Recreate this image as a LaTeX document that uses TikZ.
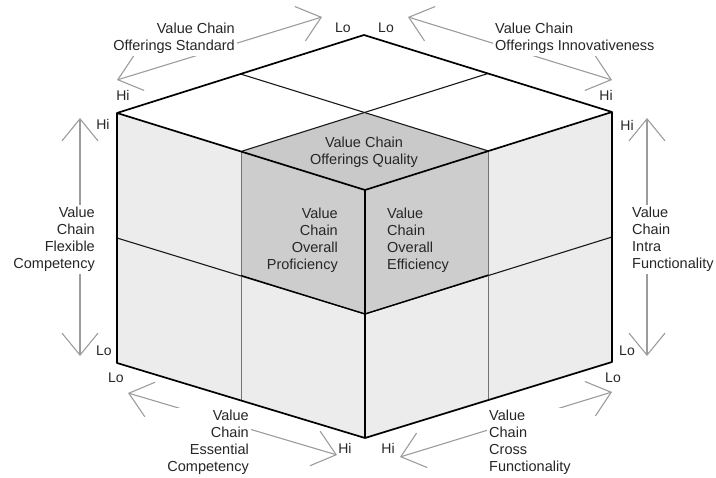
\documentclass[tikz,border=0pt]{standalone}
\usepackage{fontspec}
\setmainfont{Liberation Sans}
\usetikzlibrary{arrows.meta,calc}

\definecolor{facelight}{HTML}{ECECEC}
\definecolor{facedark}{HTML}{C9C9C9}
\definecolor{facemid}{HTML}{CDCDCD}
\definecolor{axisgray}{HTML}{9C9C9C}

\begin{document}
\begin{tikzpicture}[x=1pt,y=-1pt,
  txt/.style={font=\fontsize{14.5}{17}\selectfont, inner sep=2pt, text=black!85},
  boxtxt/.style={txt, fill=white},
  hilo/.style={font=\fontsize{14}{16}\selectfont, inner sep=0pt, text=black!85},
  axis/.style={draw=axisgray, line width=1.1pt,
    {Straight Barb[length=22pt,width=36pt]}-{Straight Barb[length=22pt,width=36pt]}},
  edge/.style={line width=1.7pt, line join=round},
  grid/.style={draw=black!90, line width=1.1pt},
  soft/.style={draw=black!55, line width=1pt}
]
\useasboundingbox (0,0) rectangle (716,478);

% cube corners
\coordinate (T)  at (364,35);
\coordinate (L)  at (117,113);
\coordinate (R)  at (612,112);
\coordinate (F)  at (365,190);
\coordinate (BL) at (117,363);
\coordinate (BF) at (365,438);
\coordinate (BR) at (612,362);

% subdivision points
\coordinate (TL) at ($(T)!0.5!(L)$);
\coordinate (TR) at ($(T)!0.5!(R)$);
\coordinate (LF) at ($(L)!0.5!(F)$);
\coordinate (RF) at ($(R)!0.5!(F)$);
\coordinate (C)  at ($(T)!0.5!(F)$);
\coordinate (ML) at ($(L)!0.5!(BL)$);
\coordinate (MR) at ($(R)!0.5!(BR)$);
\coordinate (MF) at ($(F)!0.5!(BF)$);
\coordinate (LB) at ($(BL)!0.5!(BF)$);
\coordinate (RB) at ($(BR)!0.5!(BF)$);
\coordinate (LC) at ($(L)!0.5!(BF)$);
\coordinate (RC) at ($(R)!0.5!(BF)$);

% faces
\fill[white] (T) -- (L) -- (F) -- (R) -- cycle;
\fill[facelight] (L) -- (F) -- (BF) -- (BL) -- cycle;
\fill[facelight] (R) -- (F) -- (BF) -- (BR) -- cycle;

% highlighted front-top cell
\fill[facedark] (F) -- (LF) -- (C) -- (RF) -- cycle;
\fill[facemid] (F) -- (LF) -- (LC) -- (MF) -- cycle;
\fill[facemid] (F) -- (RF) -- (RC) -- (MF) -- cycle;

% grid lines
\draw[grid] (TL) -- (RF);
\draw[grid] (TR) -- (LF);
\draw[grid] (ML) -- (MF) -- (MR);
\draw[soft] (LF) -- (LB);
\draw[soft] (RF) -- (RB);
\draw[line width=1.3pt] (LC) -- (MF) -- (RC);

% outer edges
\draw[edge] (T) -- (L) -- (BL) -- (BF) -- (BR) -- (R) -- cycle;
\draw[edge] (L) -- (F) -- (R);
\draw[edge] (F) -- (BF);

% axis arrows
\coordinate (a1) at (117,80);  \coordinate (a2) at (322,17);
\coordinate (b1) at (408,17);  \coordinate (b2) at (612,80);
\coordinate (c1) at (80,118);  \coordinate (c2) at (80,356);
\coordinate (d1) at (647,118); \coordinate (d2) at (647,356);
\coordinate (e1) at (128,393); \coordinate (e2) at (337,455);
\coordinate (f1) at (400,457); \coordinate (f2) at (612,392);
\draw[axis] (a1) -- (a2);
\draw[axis] (b1) -- (b2);
\draw[axis] (c1) -- (c2);
\draw[axis] (d1) -- (d2);
\draw[axis] (e1) -- (e2);
\draw[axis] (f1) -- (f2);

% axis captions
\node[boxtxt, anchor=north east, align=right] (std) at (237,21) {Value Chain\\Offerings Standard};
\node[boxtxt, anchor=north west, align=left] (inn) at (493,21) {Value Chain\\Offerings Innovativeness};
\node[boxtxt, anchor=north east, align=right] (flex) at (97,205) {Value\\Chain\\Flexible\\Competency};
\node[boxtxt, anchor=north west, align=left] (intra) at (630,205) {Value\\Chain\\Intra\\Functionality};
\node[boxtxt, anchor=north east, align=right] (ess) at (251,408) {Value\\Chain\\Essential\\Competency};
\node[boxtxt, anchor=north west, align=left] (cross) at (487,408) {Value\\Chain\\Cross\\Functionality};

% captions inside the highlighted cell
\node[txt, anchor=north, align=center] (qual) at (364,135) {Value Chain\\Offerings Quality};
\node[txt, anchor=north east, align=right] (prof) at (340,206) {Value\\Chain\\Overall\\Proficiency};
\node[txt, anchor=north west, align=left] (effi) at (385,206) {Value\\Chain\\Overall\\Efficiency};

% Hi / Lo markers
\node[hilo] (lo1) at (343,28) {Lo};
\node[hilo] (lo2) at (386,28) {Lo};
\node[hilo] (hi1) at (123,95) {Hi};
\node[hilo] (hi2) at (103,124) {Hi};
\node[hilo] (lo3) at (104,351) {Lo};
\node[hilo] (lo4) at (116,378) {Lo};
\node[hilo] (hi3) at (606,95) {Hi};
\node[hilo] (hi4) at (627,125) {Hi};
\node[hilo] (lo5) at (627,351) {Lo};
\node[hilo] (lo6) at (613,378) {Lo};
\node[hilo] (hi5) at (345,448) {Hi};
\node[hilo] (hi6) at (388,448) {Hi};
\end{tikzpicture}
\end{document}
